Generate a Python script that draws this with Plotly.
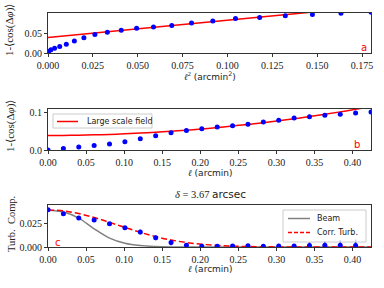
import plotly.graph_objects as go

# ---- data ----
k_idx = list(range(22))
ell = [0.0202 * k for k in k_idx]                      # arcmin
ell2 = [v * v for v in ell]                            # arcmin^2

disp = [0.000, 0.004, 0.008, 0.012, 0.016, 0.022, 0.030, 0.038, 0.046, 0.052, 0.057,
        0.062, 0.065, 0.069, 0.075, 0.080, 0.086, 0.089, 0.093, 0.096, 0.0995, 0.102]

large_scale = [0.0390, 0.0392, 0.0397, 0.0406, 0.0418, 0.0434, 0.0453, 0.0476, 0.0502,
               0.0532, 0.0565, 0.0602, 0.0643, 0.0687, 0.0734, 0.0785, 0.0839, 0.0897,
               0.0959, 0.1023, 0.1092, 0.1164]

turb = [0.0399, 0.0355, 0.0312, 0.0290, 0.0250, 0.0205, 0.0160, 0.0098, 0.0048, 0.0020,
        0.0008, 0.0008, 0.0012, 0.0013, 0.0008, 0.0010, 0.0010, 0.0015, 0.0018, 0.0020, 0.0015]
turb_err = [0.0003, 0.0008, 0.0012, 0.0014, 0.0016, 0.0020, 0.0025, 0.0025, 0.0028, 0.0015,
            0.0010, 0.0010, 0.0015, 0.0018, 0.0012, 0.0015, 0.0022, 0.0035, 0.0045, 0.0055, 0.0065]

beam = [0.0395, 0.0374, 0.0310, 0.0195, 0.0095, 0.0040, 0.0015, 0.0005, 0.0001, 0.0,
        0.0, 0.0, 0.0, 0.0, 0.0, 0.0, 0.0, 0.0, 0.0, 0.0, 0.0, 0.0]
corr_turb = [0.0397, 0.0387, 0.0358, 0.0316, 0.0264, 0.0210, 0.0157, 0.0111, 0.0075, 0.0048,
             0.0029, 0.0017, 0.0009, 0.0005, 0.0002, 0.0001, 0.0, 0.0, 0.0, 0.0, 0.0, 0.0]

xa_ticks = [0.0, 0.025, 0.05, 0.075, 0.1, 0.125, 0.15, 0.175]
xa_labels = ["0.000", "0.025", "0.050", "0.075", "0.100", "0.125", "0.150", "0.175"]
xb_ticks = [0.0, 0.05, 0.1, 0.15, 0.2, 0.25, 0.3, 0.35, 0.4]
xb_labels = ["0.00", "0.05", "0.10", "0.15", "0.20", "0.25", "0.30", "0.35", "0.40"]

legend_b_names = ["Large scale field"]
legend_c_names = ["Beam", "Corr. Turb."]

BLUE = "#0000ff"
RED = "#ff0000"
GRAY = "#808080"
SERIF = "Liberation Serif"
SANS = "DejaVu Sans"

W, H = 384, 288
L, R = 48, 13


def px(x):
    return (x - L) / (W - L - R)


def py(y):
    return 1 - y / H


fig = go.Figure()

# panel a
fig.add_trace(go.Scatter(x=ell2, y=large_scale, mode="lines", line=dict(color=RED, width=1.5),
                         xaxis="x", yaxis="y", showlegend=False))
fig.add_trace(go.Scatter(x=ell2, y=disp, mode="markers", marker=dict(color=BLUE, size=5),
                         xaxis="x", yaxis="y", showlegend=False))
# panel b
fig.add_trace(go.Scatter(x=ell, y=large_scale, mode="lines", line=dict(color=RED, width=1.5, shape="spline"),
                         xaxis="x2", yaxis="y2", name=legend_b_names[0], showlegend=False))
fig.add_trace(go.Scatter(x=ell, y=disp, mode="markers", marker=dict(color=BLUE, size=5),
                         xaxis="x2", yaxis="y2", showlegend=False))
# panel c
fig.add_trace(go.Scatter(x=ell, y=beam, mode="lines", line=dict(color=GRAY, width=1.5, shape="spline"),
                         xaxis="x3", yaxis="y3", name=legend_c_names[0], showlegend=False))
fig.add_trace(go.Scatter(x=ell, y=corr_turb, mode="lines",
                         line=dict(color=RED, width=1.5, dash="6px,3px", shape="spline"),
                         xaxis="x3", yaxis="y3", name=legend_c_names[1], showlegend=False))
fig.add_trace(go.Scatter(x=ell[:len(turb)], y=turb, mode="markers",
                         marker=dict(color=BLUE, size=5),
                         error_y=dict(type="data", array=turb_err, color=BLUE, thickness=1.5, width=0),
                         xaxis="x3", yaxis="y3", showlegend=False))

axis_common = dict(showgrid=False, zeroline=False, showline=True, linecolor="#333333", linewidth=1,
                   mirror=True, ticks="outside", ticklen=3, tickwidth=1, tickcolor="#333333",
                   automargin=False,
                   tickfont=dict(family=SERIF, size=10, color="#222222"))

fig.update_layout(
    width=W, height=H,
    margin=dict(l=L, r=R, t=0, b=0, pad=0),
    paper_bgcolor="white", plot_bgcolor="white",
    showlegend=False,
    xaxis=dict(domain=[0, 1], anchor="y", range=[0, ell2[-1]], tickvals=xa_ticks, ticktext=xa_labels, **axis_common),
    yaxis=dict(domain=[py(53), py(13)], anchor="x", range=[0, 0.1], tickvals=[0, 0.05], ticktext=["0.00", "0.05"], **axis_common),
    xaxis2=dict(domain=[0, 1], anchor="y2", range=[0, ell[-1]], tickvals=xb_ticks, ticktext=xb_labels, **axis_common),
    yaxis2=dict(domain=[py(150), py(109)], anchor="x2", range=[0, 0.11], tickvals=[0, 0.1], ticktext=["0.0", "0.1"], **axis_common),
    xaxis3=dict(domain=[0, 1], anchor="y3", range=[0, ell[-1]], tickvals=xb_ticks, ticktext=xb_labels, **axis_common),
    yaxis3=dict(domain=[py(247), py(205)], anchor="x3", range=[0, 0.045], tickvals=[0, 0.025], ticktext=["0.000", "0.025"], **axis_common),
)

# ---- legends drawn as boxes (matplotlib style) ----
shapes = []


def box(x0, y0, x1, y1):
    shapes.append(dict(type="rect", xref="paper", yref="paper", x0=px(x0), x1=px(x1), y0=py(y1), y1=py(y0),
                       fillcolor="rgba(255,255,255,0.8)", line=dict(color="#cccccc", width=1), layer="above"))


def sample(x0, x1, y, color, dash="solid"):
    shapes.append(dict(type="line", xref="paper", yref="paper", x0=px(x0), x1=px(x1), y0=py(y), y1=py(y),
                       line=dict(color=color, width=1.5, dash=dash), layer="above"))


box(53, 114, 152, 128)
sample(57, 78, 121.5, RED)
box(283, 210, 366, 242)
sample(288, 310, 218.5, GRAY)
sample(288, 310, 232.5, RED, "4px,2px")
fig.update_layout(shapes=shapes)

ann = []
# legend texts
ann.append(dict(x=px(85), y=py(121.5), text=legend_b_names[0], xanchor="left",
                font=dict(family=SANS, size=8, color="#222222")))
ann.append(dict(x=px(315), y=py(218.5), text=legend_c_names[0], xanchor="left",
                font=dict(family=SANS, size=8, color="#222222")))
ann.append(dict(x=px(315), y=py(232.5), text=legend_c_names[1], xanchor="left",
                font=dict(family=SANS, size=8, color="#222222")))
# x-axis titles
ann.append(dict(x=px(210), y=py(76),
                text=f"<span style='font-family:{SERIF}'><i>ℓ</i><sup>2</sup></span> (arcmin<sup>2</sup>)",
                font=dict(family=SANS, size=9, color="#222222")))
ann.append(dict(x=px(210), y=py(173),
                text=f"<span style='font-family:{SERIF}'><i>ℓ</i></span> (arcmin)",
                font=dict(family=SANS, size=9, color="#222222")))
ann.append(dict(x=px(210), y=py(269),
                text=f"<span style='font-family:{SERIF}'><i>ℓ</i></span> (arcmin)",
                font=dict(family=SANS, size=9, color="#222222")))
# y-axis titles
ann.append(dict(x=px(10), y=py(30), text="1-⟨cos(Δ<i>φ</i>)⟩", textangle=-90,
                font=dict(family=SERIF, size=11, color="#222222")))
ann.append(dict(x=px(10), y=py(126), text="1-⟨cos(Δ<i>φ</i>)⟩", textangle=-90,
                font=dict(family=SERIF, size=11, color="#222222")))
ann.append(dict(x=px(11), y=py(224), text="Turb.  Comp.", textangle=-90,
                font=dict(family=SERIF, size=10.5, color="#222222")))
# title of panel c
ann.append(dict(x=px(210), y=py(194),
                text=f"<i>δ</i> = 3.67 <span style='font-family:{SANS}'>arcsec</span>",
                font=dict(family=SERIF, size=10.5, color="#222222")))
# panel letters
ann.append(dict(x=px(364), y=py(48), text="a", font=dict(family=SANS, size=10, color=RED)))
ann.append(dict(x=px(357), y=py(144), text="b", font=dict(family=SANS, size=10, color=RED)))
ann.append(dict(x=px(58), y=py(242), text="c", font=dict(family=SANS, size=10, color=RED)))

for a in ann:
    a.update(xref="paper", yref="paper", showarrow=False, yanchor="middle")
    a.setdefault("xanchor", "center")
fig.update_layout(annotations=ann)

fig.write_html("out.html", config={"displayModeBar": False},
               post_script="document.body.style.margin='0';document.body.style.overflow='hidden';")
